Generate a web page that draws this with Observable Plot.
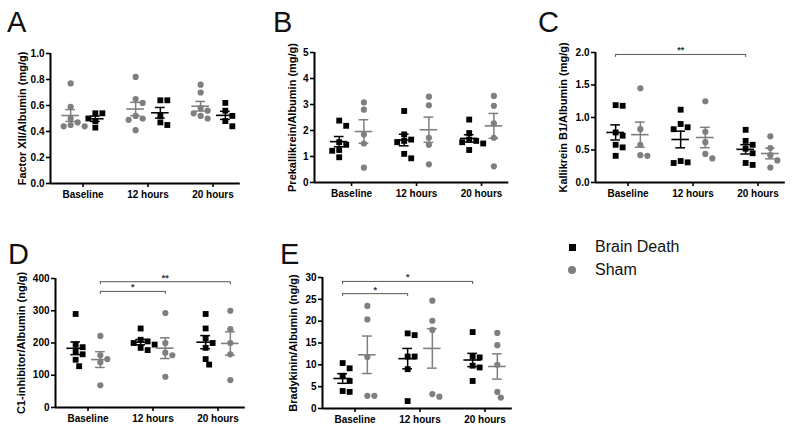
<!DOCTYPE html>
<html><head><meta charset="utf-8">
<script src="https://cdn.jsdelivr.net/npm/d3@7"></script>
<script src="https://cdn.jsdelivr.net/npm/@observablehq/plot@0.6"></script>
<style>
body{margin:0;background:#fff;}
#root{position:relative;width:800px;height:426px;overflow:hidden;background:#fff;font-family:"Liberation Sans",Arial,sans-serif;}
.letter{position:absolute;font-size:29px;line-height:29px;color:#111;}
.leg{position:absolute;font-size:16px;line-height:16px;color:#111;}
.sw{position:absolute;}
</style></head><body><div id="root"></div>
<script>
// ---------- data ----------
const groups = ["Baseline", "12 hours", "20 hours"];
const seriesNames = ["Brain Death", "Sham"];
const panelLetters = ["A", "B", "C", "D", "E"];

const A_label = "Factor XII/Albumin (mg/g)";
const A_ticks = [0, 0.2, 0.4, 0.6, 0.8, 1.0];
const A_brainDeath = [[0.54,0.54,0.50,0.48,0.43],[0.64,0.64,0.52,0.47,0.45],[0.62,0.56,0.52,0.48,0.44]];
const A_sham = [[0.77,0.59,0.50,0.47,0.45,0.44,0.44],[0.82,0.65,0.62,0.52,0.50,0.49,0.41],[0.76,0.70,0.58,0.56,0.54,0.52,0.50]];

const B_label = "Prekallikrein/Albumin (mg/g)";
const B_ticks = [0, 1, 2, 3, 4, 5];
const B_brainDeath = [[2.38,2.18,1.55,1.45,1.25,1.22,0.97],[2.75,1.85,1.65,1.60,1.55,1.10,0.93],[2.42,1.90,1.65,1.60,1.55,1.50,1.25]];
const B_sham = [[3.08,2.80,1.85,1.50,0.57],[3.30,2.97,1.72,1.45,0.70],[3.33,2.95,2.27,1.72,0.62]];

const C_label = "Kallikrein B1/Albumin (mg/g)";
const C_ticks = [0, 0.5, 1.0, 1.5, 2.0];
const C_brainDeath = [[1.18,1.19,0.77,0.72,0.58,0.54,0.41],[1.12,0.90,0.85,0.82,0.33,0.30,0.31],[0.81,0.64,0.58,0.52,0.45,0.30,0.27]];
const C_sham = [[1.45,0.82,0.58,0.42,0.41],[1.25,0.78,0.62,0.44,0.37],[0.71,0.53,0.42,0.34,0.23]];
const C_brackets = [{from:[0,"Brain Death"], to:[2,"Brain Death"], level:1.97, label:"**"}];

const D_label = "C1-inhibitor/Albumin (ng/g)";
const D_ticks = [0, 100, 200, 300, 400];
const D_brainDeath = [[290,195,187,172,165,148,128],[245,210,205,200,195,185,178],[290,245,215,200,185,150,133]];
const D_sham = [[222,162,150,140,69],[293,200,170,162,95],[300,243,200,165,85]];
const D_brackets = [{from:[0,"Sham"], to:[2,"Sham"], level:390, label:"**"},{from:[0,"Sham"], to:[1,"Sham"], level:360, label:"*"}];

const E_label = "Bradykinin/Albumin (ng/g)";
const E_ticks = [0, 5, 10, 15, 20, 25, 30];
const E_brainDeath = [[10.4,9.2,7.5,6.3,4.0,3.8],[17.2,16.8,11.9,11.9,9.0,1.7],[17.5,11.9,11.7,9.8,9.4,6.3]];
const E_sham = [[23.5,20.4,11.8,2.9,2.9],[24.7,20.1,18.0,3.3,2.7],[17.3,14.5,10.0,3.8,2.5]];
const E_brackets = [{from:[0,"Brain Death"], to:[2,"Brain Death"], level:29.1, label:"*"},{from:[0,"Brain Death"], to:[1,"Brain Death"], level:26.3, label:"*"}];

// ---------- styling / layout ----------
const seriesColor = {"Brain Death": "#000000", "Sham": "#7f7f7f"};
const PPU = 65, XMAX = 2.42, OFF = 0.19;

const panels = [
  {letter:"A", data:{"Brain Death":A_brainDeath, "Sham":A_sham}, order:["Sham","Brain Death"], ymax:1, ticks:A_ticks, fmt:d=>d.toFixed(1), label:A_label, brackets:[], left:0, top:40, ml:50, mr:20, mt:13, fh:130, xmin:-0.5, ldx:28, lx:7, ly:8},
  {letter:"B", data:{"Brain Death":B_brainDeath, "Sham":B_sham}, order:["Brain Death","Sham"], ymax:5, ticks:B_ticks, fmt:d=>String(d), label:B_label, brackets:[], left:265, top:40, ml:49, mr:20, mt:12, fh:130, xmin:-0.57, ldx:22, lx:273, ly:8},
  {letter:"C", data:{"Brain Death":C_brainDeath, "Sham":C_sham}, order:["Brain Death","Sham"], ymax:2, ticks:C_ticks, fmt:d=>d.toFixed(1), label:C_label, brackets:C_brackets, left:530, top:40, ml:65, mr:12, mt:12, fh:130, xmin:-0.5, ldx:32, lx:538, ly:8},
  {letter:"D", data:{"Brain Death":D_brainDeath, "Sham":D_sham}, order:["Brain Death","Sham"], ymax:400, ticks:D_ticks, fmt:d=>String(d), label:D_label, brackets:D_brackets, left:0, top:265, ml:55, mr:15, mt:13, fh:129, xmin:-0.5, ldx:34, lx:8, ly:240},
  {letter:"E", data:{"Brain Death":E_brainDeath, "Sham":E_sham}, order:["Brain Death","Sham"], ymax:30, ticks:E_ticks, fmt:d=>String(d), label:E_label, brackets:E_brackets, left:265, top:265, ml:57, mr:15, mt:12, fh:131, xmin:-0.5, ldx:29, lx:280, ly:240}
];

// deterministic swarm layout (pixel offsets) from the values
function swarm(vals, pxPerY, d = 6.5, step = 3.5) {
  const idx = vals.map((v, i) => i).sort((a, b) => vals[b] - vals[a]);
  const placed = [], off = new Array(vals.length);
  for (const i of idx) {
    const py = vals[i] * pxPerY;
    for (let k = 0; k < 50; k++) {
      const c = k === 0 ? 0 : (k % 2 ? 1 : -1) * Math.ceil(k / 2) * step;
      if (placed.every(p => Math.hypot(p.x - c, p.y - py) >= d)) { placed.push({x: c, y: py}); off[i] = c; break; }
    }
  }
  return off;
}

const root = document.getElementById("root");

for (const p of panels) {
  const frameW = (XMAX - p.xmin) * PPU;
  const width = p.ml + frameW + p.mr;
  const height = p.mt + p.fh + 30;
  const pxPerY = p.fh / p.ymax;
  const offOf = s => (p.order.indexOf(s) === 0 ? -OFF : OFF);
  const pts = [], stats = [];
  for (const s of p.order) {
    p.data[s].forEach((vals, g) => {
      const cx = g + offOf(s);
      const jit = swarm(vals, pxPerY);
      vals.forEach((v, i) => pts.push({series: s, x: cx + jit[i] / PPU, y: v}));
      const m = d3.mean(vals), se = d3.deviation(vals) / Math.sqrt(vals.length);
      stats.push({series: s, x: cx, mean: m, lo: m - se, hi: m + se});
    });
  }
  const tickLen = 3 / pxPerY;
  const br = p.brackets.map(b => ({x1: b.from[0] + offOf(b.from[1]), x2: b.to[0] + offOf(b.to[1]), y: b.level, label: b.label}));
  const brEnds = br.flatMap(b => [{x: b.x1, y: b.y}, {x: b.x2, y: b.y}]);

  const marks = [
    Plot.axisY({ticks: p.ticks, tickFormat: p.fmt, tickSize: 4, tickPadding: 2, label: null, strokeWidth: 1.6}),
    Plot.axisX({ticks: [0, 1, 2], tickFormat: i => groups[i], tickSize: 4, tickPadding: 3, label: null, strokeWidth: 1.6}),
    Plot.ruleX([p.xmin], {y1: 0, y2: p.ymax, stroke: "#000", strokeWidth: 2}),
    Plot.ruleY([0], {stroke: "#000", strokeWidth: 2}),
    Plot.text([p.label], {text: d => d, frameAnchor: "left", textAnchor: "middle", lineAnchor: "middle", rotate: -90, dx: -p.ldx, fontSize: 11, fontWeight: "bold", fill: "#000"})
  ];
  for (const s of p.order) {
    const sp = pts.filter(d => d.series === s);
    const st = stats.filter(d => d.series === s);
    const col = seriesColor[s];
    if (s === "Brain Death") marks.push(Plot.dot(sp, {x: "x", y: "y", symbol: "square", r: 3.3, fill: col, stroke: "none"}));
    else marks.push(Plot.dot(sp, {x: "x", y: "y", r: 3.1, fill: col, stroke: "none"}));
    marks.push(
      Plot.ruleX(st, {x: "x", y1: "lo", y2: "hi", stroke: col, strokeWidth: 1.5}),
      Plot.ruleY(st, {y: "lo", x1: d => d.x - 0.075, x2: d => d.x + 0.075, stroke: col, strokeWidth: 1.5}),
      Plot.ruleY(st, {y: "hi", x1: d => d.x - 0.075, x2: d => d.x + 0.075, stroke: col, strokeWidth: 1.5}),
      Plot.ruleY(st, {y: "mean", x1: d => d.x - 0.135, x2: d => d.x + 0.135, stroke: col, strokeWidth: 1.6})
    );
  }
  if (br.length) {
    marks.push(
      Plot.ruleY(br, {y: "y", x1: "x1", x2: "x2", stroke: "#555", strokeWidth: 1}),
      Plot.ruleX(brEnds, {x: "x", y1: "y", y2: d => d.y - tickLen, stroke: "#555", strokeWidth: 1}),
      Plot.text(br, {x: d => (d.x1 + d.x2) / 2, y: "y", text: "label", dy: -4, fontSize: 9, fill: "#333"})
    );
  }
  const svg = Plot.plot({
    width, height,
    marginLeft: p.ml, marginRight: p.mr, marginTop: p.mt, marginBottom: 30,
    x: {domain: [p.xmin, XMAX]},
    y: {domain: [0, p.ymax]},
    style: {fontFamily: "'Liberation Sans', Arial, sans-serif", fontWeight: "bold", fontSize: "10px", color: "#000", background: "transparent", overflow: "visible"},
    marks
  });
  svg.style.position = "absolute";
  svg.style.left = p.left + "px";
  svg.style.top = p.top + "px";
  root.appendChild(svg);

  const L = document.createElement("div");
  L.className = "letter";
  L.textContent = p.letter;
  L.style.left = p.lx + "px";
  L.style.top = p.ly + "px";
  root.appendChild(L);
}

// legend
const legY = [247, 270];
seriesNames.forEach((s, i) => {
  const sw = document.createElement("div");
  sw.className = "sw";
  const sz = s === "Brain Death" ? 7 : 8;
  sw.style.width = sz + "px"; sw.style.height = sz + "px";
  sw.style.left = (572 - sz / 2) + "px"; sw.style.top = (legY[i] - sz / 2) + "px";
  sw.style.background = seriesColor[s];
  if (s === "Sham") sw.style.borderRadius = "50%";
  root.appendChild(sw);
  const t = document.createElement("div");
  t.className = "leg";
  t.textContent = s;
  t.style.left = "595px";
  t.style.top = (legY[i] + 5 - 13.5) + "px";
  root.appendChild(t);
});
</script></body></html>
